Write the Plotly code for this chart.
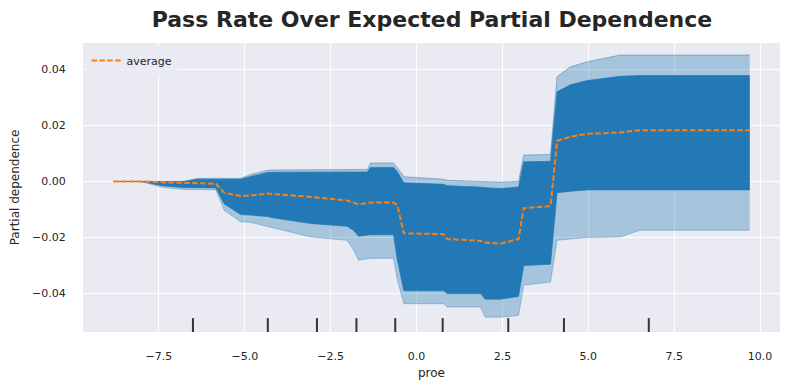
import plotly.graph_objects as go

# grid of feature values (proe) where ICE curves change
proe_grid = [-8.83, -8.02, -7.40, -6.77, -6.38, -5.84, -5.60, -5.12, -4.83, -4.34,
             -4.15, -3.08, -2.02, -1.83, -1.69, -1.43, -1.34, -0.67, -0.56, -0.37,
             0.79, 0.89, 1.86, 2.00, 2.44, 2.97, 3.12, 3.90, 4.09, 4.48,
             4.97, 5.93, 6.50, 9.70]

average_pd = [0.0, 0.0, -0.0003, -0.0005, -0.0005, -0.0008, -0.0040, -0.0052, -0.0050, -0.0043,
              -0.0045, -0.0055, -0.0068, -0.0075, -0.0082, -0.0077, -0.0075, -0.0075, -0.0085, -0.0185,
              -0.0188, -0.0205, -0.0212, -0.0218, -0.0222, -0.0205, -0.0095, -0.0088, 0.0145, 0.0160,
              0.0170, 0.0175, 0.0183, 0.0183]

ice_max = [0.0, 0.0, 0.0, 0.0, 0.0011, 0.0011, 0.0011, 0.0011, 0.0025, 0.0040,
           0.0041, 0.0042, 0.0043, 0.0043, 0.0043, 0.0043, 0.0066, 0.0066, 0.0050, 0.0017,
           0.0008, 0.0004, 0.0000, -0.0001, -0.0002, 0.0000, 0.0094, 0.0096, 0.0374, 0.0409,
           0.0427, 0.0451, 0.0451, 0.0451]

ice_min = [0.0, 0.0, -0.0021, -0.0029, -0.0029, -0.0030, -0.0103, -0.0144, -0.0146, -0.0160,
           -0.0168, -0.0198, -0.0210, -0.0245, -0.0281, -0.0275, -0.0274, -0.0274, -0.0350, -0.0436,
           -0.0436, -0.0448, -0.0448, -0.0484, -0.0484, -0.0478, -0.0370, -0.0359, -0.0210, -0.0205,
           -0.0200, -0.0198, -0.0174, -0.0174]

ice_dense_hi = [0.0, 0.0, 0.0, 0.0, 0.0008, 0.0008, 0.0006, 0.0008, 0.0018, 0.0032,
                0.0033, 0.0034, 0.0034, 0.0034, 0.0034, 0.0034, 0.0050, 0.0050, 0.0035, -0.0005,
                -0.0010, -0.0015, -0.0020, -0.0022, -0.0025, -0.0020, 0.0070, 0.0072, 0.0320, 0.0345,
                0.0360, 0.0375, 0.0378, 0.0378]

ice_dense_lo = [0.0, 0.0, -0.0015, -0.0022, -0.0022, -0.0023, -0.0080, -0.0118, -0.0120, -0.0125,
                -0.0130, -0.0150, -0.0160, -0.0175, -0.0195, -0.0190, -0.0190, -0.0190, -0.0280, -0.0390,
                -0.0390, -0.0400, -0.0400, -0.0420, -0.0420, -0.0410, -0.0300, -0.0295, -0.0040, -0.0035,
                -0.0030, -0.0030, -0.0030, -0.0030]

deciles = [-6.51, -4.33, -2.90, -1.75, -0.62, 0.76, 2.67, 4.29, 6.76]

x_ticks = [-7.5, -5.0, -2.5, 0.0, 2.5, 5.0, 7.5, 10.0]
y_ticks = [-0.04, -0.02, 0.0, 0.02, 0.04]

BLUE = "31,119,180"
fig = go.Figure()

# outer envelope (sparse individual curves)
fig.add_trace(go.Scatter(x=proe_grid, y=ice_min, mode="lines",
                         line=dict(color=f"rgba({BLUE},0.35)", width=1),
                         showlegend=False, hoverinfo="skip"))
fig.add_trace(go.Scatter(x=proe_grid, y=ice_max, mode="lines", fill="tonexty",
                         fillcolor=f"rgba({BLUE},0.33)",
                         line=dict(color=f"rgba({BLUE},0.45)", width=1),
                         showlegend=False, hoverinfo="skip"))
# dense core of ICE curves
fig.add_trace(go.Scatter(x=proe_grid, y=ice_dense_lo, mode="lines",
                         line=dict(color=f"rgba({BLUE},0.7)", width=1),
                         showlegend=False, hoverinfo="skip"))
fig.add_trace(go.Scatter(x=proe_grid, y=ice_dense_hi, mode="lines", fill="tonexty",
                         fillcolor=f"rgba({BLUE},0.97)",
                         line=dict(color=f"rgba({BLUE},0.7)", width=1),
                         showlegend=False, hoverinfo="skip"))

fig.add_trace(go.Scatter(x=proe_grid, y=average_pd, mode="lines", name="average",
                         line=dict(color="#ff7f0e", width=2, dash="5.5px,2.4px")))

# decile rug marks
for d in deciles:
    fig.add_shape(type="line", xref="x", yref="y domain", x0=d, x1=d, y0=0, y1=0.048,
                  line=dict(color="#333333", width=2))

# the page body adds an 8px offset, so the figure is sized/placed to compensate
fig.update_layout(
    width=783, height=382,
    margin=dict(l=75, r=11, t=35, b=58, autoexpand=False),
    paper_bgcolor="white", plot_bgcolor="#eaeaf2",
    font=dict(family="DejaVu Sans", size=11, color="#262626"),
    title=dict(text="<b>Pass Rate Over Expected Partial Dependence</b>",
               x=0.5415, xanchor="center", y=0.971, yanchor="middle",
               font=dict(size=22, color="#262626")),
    legend=dict(x=0.005, y=0.99, xanchor="left", yanchor="top",
                bgcolor="rgba(234,234,242,0.8)", font=dict(size=11)),
    showlegend=True,
)
fig.update_xaxes(range=[-9.71, 10.58], tickvals=x_ticks, tickformat=".1f", automargin=False,
                 gridcolor="white", gridwidth=1, zeroline=False, showline=False,
                 ticks="outside", ticklen=14, tickcolor="rgba(0,0,0,0)",
                 title=dict(text="proe", font=dict(size=12), standoff=6))
fig.update_yaxes(range=[-0.0537, 0.0494], tickvals=y_ticks, tickformat=".2f", automargin=False,
                 gridcolor="white", gridwidth=1, zeroline=False, showline=False,
                 ticks="outside", ticklen=14, tickcolor="rgba(0,0,0,0)",
                 title=dict(text="Partial dependence", font=dict(size=12), standoff=14))

fig.write_html("out.html")
